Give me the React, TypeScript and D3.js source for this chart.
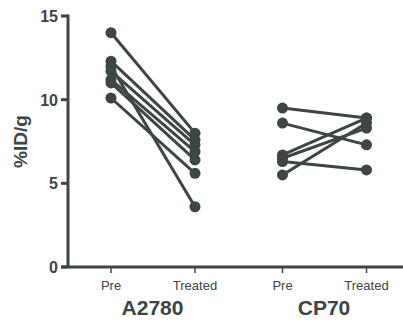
import React from "react";
import * as d3 from "d3";

const groups = ["A2780", "CP70"];
const timepoints = ["Pre", "Treated"];
const yTicks = [0, 5, 10, 15];

const a2780Pre = [14.0, 12.3, 12.0, 11.7, 11.2, 11.0, 10.1];
const a2780Treated = [8.0, 7.6, 3.6, 7.3, 6.9, 6.4, 5.6];
const cp70Pre = [9.5, 8.6, 6.7, 6.5, 6.3, 5.5];
const cp70Treated = [8.9, 7.3, 8.9, 8.3, 5.8, 8.6];

const seriesByGroup = [
  { pre: a2780Pre, treated: a2780Treated },
  { pre: cp70Pre, treated: cp70Treated },
];

const W = 403;
const H = 322;
const COLOR = "#3d4545";

export default function App() {
  const y = d3.scaleLinear().domain([0, 15]).range([267, 16]);
  const xGroup = d3.scalePoint<string>().domain(groups).range([152.5, 324]);
  const xInner = d3.scalePoint<string>().domain(timepoints).range([-41.5, 42.5]);
  const pos = (gi: number, ti: number) =>
    (xGroup(groups[gi]) as number) + (xInner(timepoints[ti]) as number);

  return (
    <svg width={W} height={H} style={{ position: "absolute", left: 0, top: 0, background: "#fff" }}>
      <g fontFamily="Liberation Sans, Arial, sans-serif" fill={COLOR}>
        <line x1={68} x2={68} y1={y(15) - 1.5} y2={y(0)} stroke={COLOR} strokeWidth={3} />
        {yTicks.map((t) => (
          <g key={t}>
            <line x1={61} x2={68} y1={y(t)} y2={y(t)} stroke={COLOR} strokeWidth={3} />
            <text x={58} y={y(t) + 6} textAnchor="end" fontSize={16} fontWeight="bold">
              {t}
            </text>
          </g>
        ))}
        <line x1={61} x2={403} y1={y(0)} y2={y(0)} stroke={COLOR} strokeWidth={3} />
        {groups.map((g, gi) => (
          <g key={g}>
            {timepoints.map((tp, ti) => (
              <g key={tp}>
                <line x1={pos(gi, ti)} x2={pos(gi, ti)} y1={y(0)} y2={y(0) + 6} stroke={COLOR} strokeWidth={1.5} />
                <text x={pos(gi, ti)} y={290} textAnchor="middle" fontSize={13}>
                  {tp}
                </text>
              </g>
            ))}
            <text x={xGroup(g) as number} y={315} textAnchor="middle" fontSize={21} fontWeight="bold">
              {g}
            </text>
          </g>
        ))}
        <text
          transform={`translate(27,${(y(0) + y(15)) / 2}) rotate(-90)`}
          textAnchor="middle"
          fontSize={19}
          fontWeight="bold"
        >
          %ID/g
        </text>
        {seriesByGroup.map((s, gi) =>
          s.pre.map((v, i) => (
            <g key={`${gi}-${i}`}>
              <line
                x1={pos(gi, 0)}
                x2={pos(gi, 1)}
                y1={y(v)}
                y2={y(s.treated[i])}
                stroke={COLOR}
                strokeWidth={3}
              />
              <circle cx={pos(gi, 0)} cy={y(v)} r={5.5} fill={COLOR} />
              <circle cx={pos(gi, 1)} cy={y(s.treated[i])} r={5.5} fill={COLOR} />
            </g>
          ))
        )}
      </g>
    </svg>
  );
}
